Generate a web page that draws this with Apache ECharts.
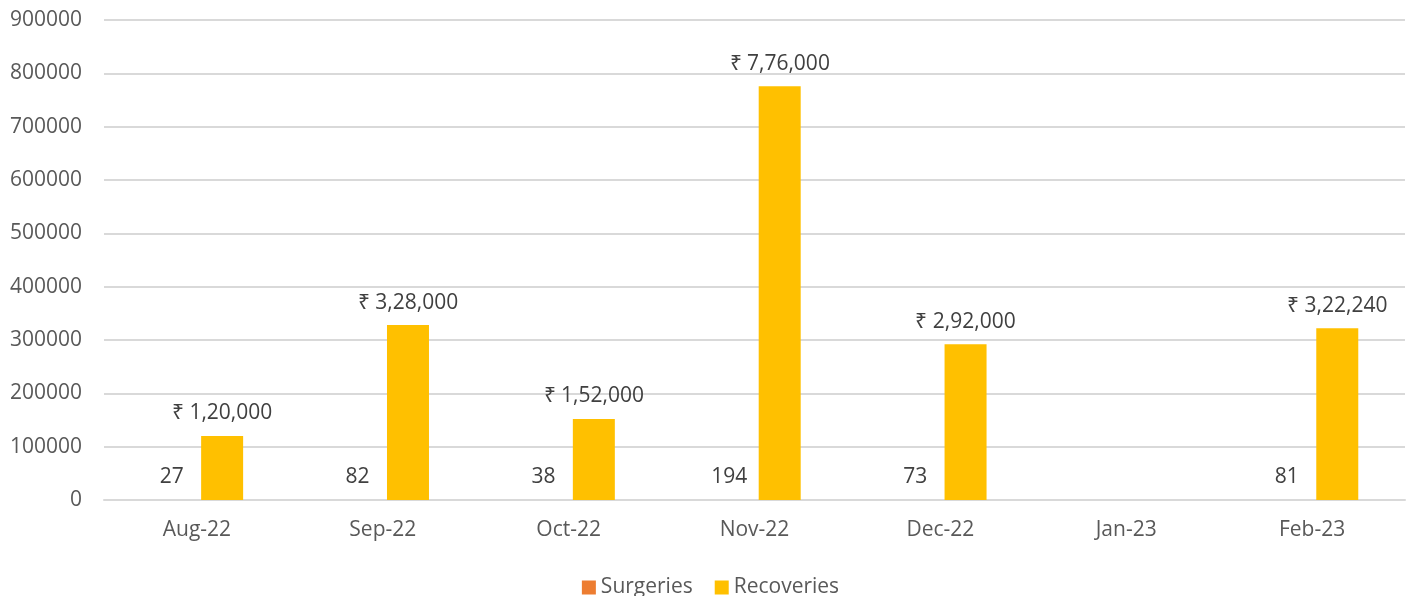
<!DOCTYPE html>
<html lang="en">
<head>
    <meta charset="UTF-8">
    <title>Surgeries and Recoveries</title>
    <script src="https://cdn.jsdelivr.net/npm/echarts@6/dist/echarts.min.js"></script>
    <style>
        body { margin: 0; background: #fff; }
    </style>
</head>
<body>
    <div id="main" style="width: 1421px;height:596px;"></div>
    <script type="text/javascript">

        const months = ['Aug-22', 'Sep-22', 'Oct-22', 'Nov-22', 'Dec-22', 'Jan-23', 'Feb-23'];
        const surgeries = [27, 82, 38, 194, 73, null, 81];
        const recoveries = [120000, 328000, 152000, 776000, 292000, null, 322240];

        // indian grouping: 1,20,000 / 7,76,000
        function inr(v) {
            var s = String(Math.round(v));
            if (s.length <= 3) return '₹ ' + s;
            var last = s.slice(-3);
            var rest = s.slice(0, -3).replace(/\B(?=(\d{2})+(?!\d))/g, ',');
            return '₹ ' + rest + ',' + last;
        }

        var chartDom = document.getElementById('main');
        var myChart = echarts.init(chartDom);
        var font = "'Open Sans', sans-serif";

        var option = {
            animation: false,
            textStyle: { fontFamily: font },
            grid: { left: 104, right: 16, top: 20, bottom: 96 },
            legend: {
                top: 572,
                itemWidth: 14,
                itemHeight: 14,
                itemGap: 22,
                icon: 'rect',
                textStyle: { fontSize: 21, color: '#595959', fontFamily: font },
                data: ['Surgeries', 'Recoveries']
            },
            xAxis: {
                type: 'category',
                data: months,
                axisTick: { show: false },
                axisLine: { lineStyle: { color: '#d9d9d9', width: 2 } },
                axisLabel: { fontSize: 21, color: '#595959', margin: 20 }
            },
            yAxis: {
                type: 'value',
                min: 0,
                max: 900000,
                interval: 100000,
                axisLine: { show: false },
                axisTick: { show: false },
                splitLine: { lineStyle: { color: '#d9d9d9', width: 2 } },
                axisLabel: {
                    fontSize: 21,
                    color: '#595959',
                    margin: 22,
                    formatter: function (v) { return String(v); }
                }
            },
            series: [
                {
                    name: 'Surgeries',
                    type: 'bar',
                    data: surgeries,
                    barWidth: 42,
                    barGap: '20%',
                    itemStyle: { color: '#ED7D31' },
                    label: {
                        show: true,
                        position: 'top',
                        distance: 12,
                        fontSize: 21,
                        color: '#404040',
                        fontFamily: font
                    }
                },
                {
                    name: 'Recoveries',
                    type: 'bar',
                    data: recoveries,
                    barWidth: 42,
                    itemStyle: { color: '#FFC000' },
                    label: {
                        show: true,
                        position: 'top',
                        distance: 12,
                        fontSize: 21,
                        color: '#404040',
                        fontFamily: font,
                        formatter: function (p) { return inr(p.value); }
                    }
                }
            ]
        };

        myChart.setOption(option);

    </script>
</body>
</html>
